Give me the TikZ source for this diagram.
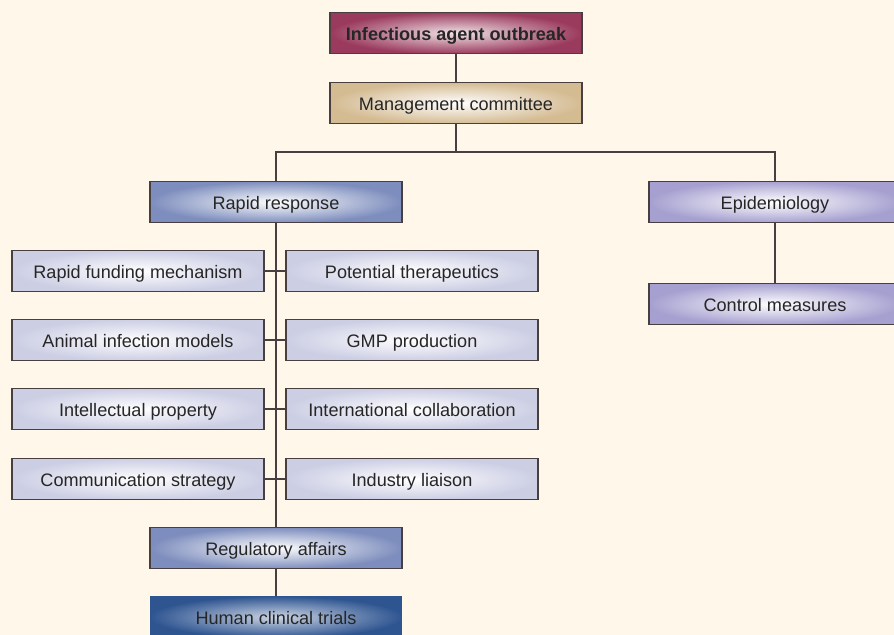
\documentclass[tikz,border=0pt]{standalone}
\usepackage{fontspec}
\setmainfont{Liberation Sans}
\definecolor{paper}{RGB}{254,247,234}
\definecolor{wire}{RGB}{72,64,64}
\definecolor{maroon}{RGB}{154,58,92}
\definecolor{tan}{RGB}{212,187,146}
\definecolor{steel}{RGB}{125,141,189}
\definecolor{lilac}{RGB}{166,160,208}
\definecolor{pale}{RGB}{204,206,228}
\definecolor{navy}{RGB}{47,85,145}
\tikzset{
	box/.style={draw=wire, line width=0.7pt, minimum width=5.04cm, minimum height=0.83cm,
		inner sep=0pt, text height=9pt, text depth=0.2pt, text=black!85,
		font=\fontsize{10.3}{12}\selectfont, shading=radial, inner color=white},
	wirel/.style={draw=wire, line width=0.7pt}
}
\begin{document}
\begin{tikzpicture}[x=0.02cm, y=-0.02cm]
	\fill[paper] (0,0) rectangle (894,635);
	\useasboundingbox (0,0) rectangle (894,635);
	
	\node[box, outer color=maroon, inner color=maroon!15, font=\fontsize{10.3}{12}\selectfont\bfseries] (out) at (456,33) {Infectious agent outbreak};
	\node[box, outer color=tan] (mgmt) at (456,103) {Management committee};
	\node[box, outer color=steel] (rapid) at (276,202) {Rapid response};
	\node[box, outer color=lilac] (epi) at (775,202) {Epidemiology};
	\node[box, outer color=lilac] (ctrl) at (775,304) {Control measures};
	
	\foreach \y/\nl/\tl/\nr/\tr in {271/fund/Rapid funding mechanism/ther/Potential therapeutics,
		340/anim/Animal infection models/gmp/GMP production,
		409/ip/Intellectual property/intl/International collaboration,
		479/comm/Communication strategy/ind/Industry liaison} {
		\node[box, outer color=pale] (\nl) at (138,\y) {\tl};
		\node[box, outer color=pale] (\nr) at (412,\y) {\tr};
		\draw[wirel] (\nl.east) -- (\nr.west);
	}
	
	\node[box, outer color=steel] (reg) at (276,548) {Regulatory affairs};
	\node[box, draw=none, outer color=navy, inner color=navy!25] (hum) at (276,617) {Human clinical trials};
	
	\coordinate (split) at (456,152);
	\draw[wirel] (out) -- (mgmt);
	\draw[wirel] (mgmt) -- (split);
	\draw[wirel] (rapid.north) |- (split) -| (epi.north);
	\draw[wirel] (epi) -- (ctrl);
	\draw[wirel] (rapid) -- (reg);
	\draw[wirel] (reg) -- (hum);
\end{tikzpicture}
\end{document}
